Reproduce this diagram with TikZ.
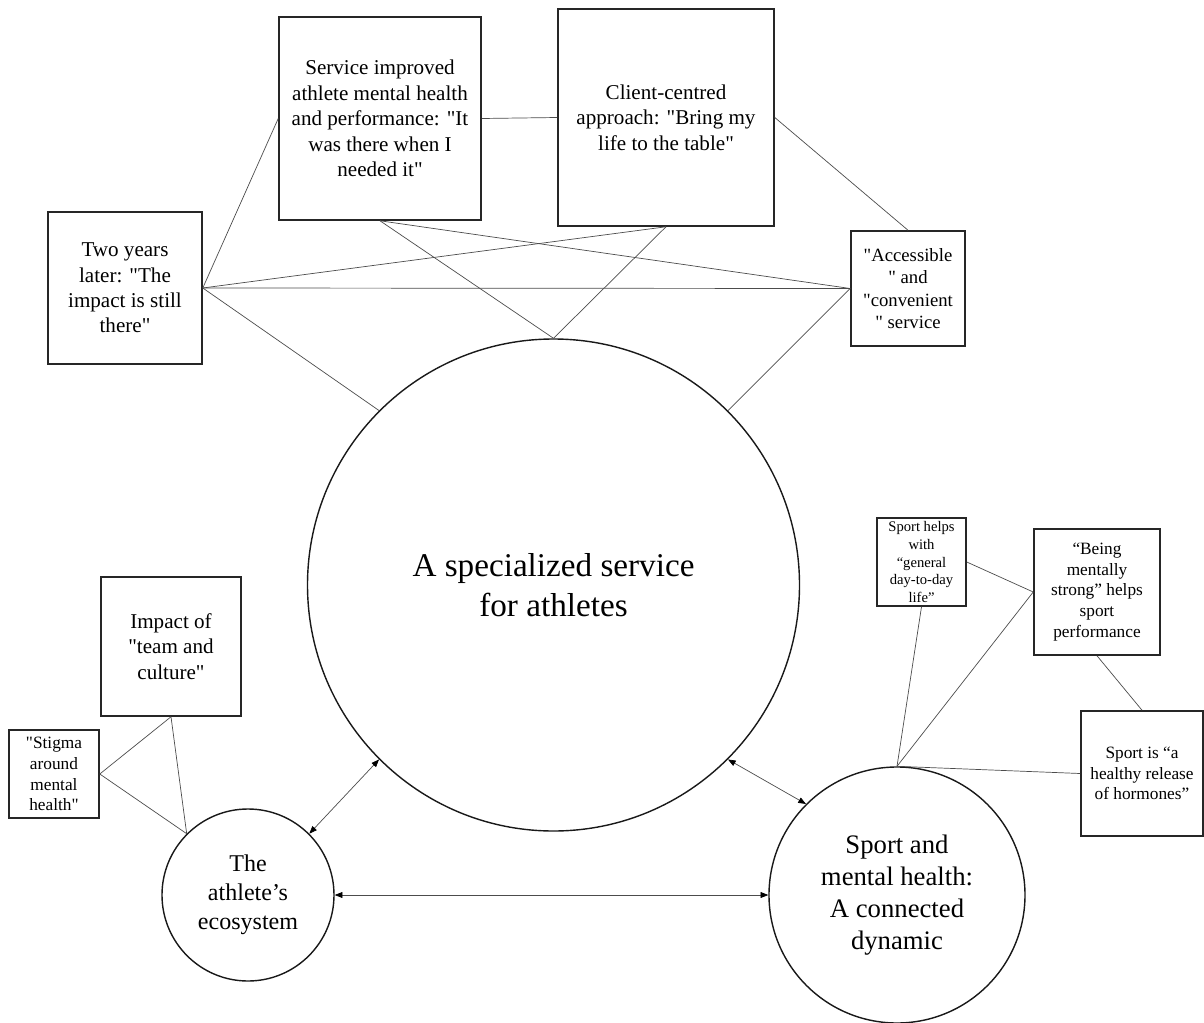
\documentclass[tikz,border=0pt]{standalone}
\usepackage{fontspec}
\setmainfont{Liberation Serif}[Ligatures=TeXOff]
\usetikzlibrary{arrows.meta}
\begin{document}
\begin{tikzpicture}[scale=0.25]
\tikzstyle{every node}+=[inner sep=0pt, align=center]
\tikzstyle{box}=[draw=black!85, line width=1.1pt, rectangle]
\tikzstyle{hub}=[draw=black!90, line width=1pt, circle]
\tikzstyle{link}=[black!70, line width=0.5pt]
\tikzstyle{both}=[link, >={Triangle[length=5.5pt,width=4.2pt,color=black]}, <->]
\useasboundingbox (0,0) rectangle (120.4,-102.3);
\node [hub, minimum size=12.3cm, font=\fontsize{23.6}{28.3}\selectfont] (main) at (55.35,-58.5) {A specialized service\\for athletes};
\node [hub, minimum size=4.3cm, font=\fontsize{17.1}{20.5}\selectfont] (eco) at (24.8,-89.5) {The\\athlete’s\\ecosystem};
\node [hub, minimum size=6.4cm, font=\fontsize{19}{22.8}\selectfont] (sport) at (89.7,-89.5) {Sport and\\mental health:\\A connected\\dynamic};
\node [box, minimum width=5.05cm, minimum height=5.075cm, font=\fontsize{15}{18.1}\selectfont] (serv) at (38,-11.85) {Service improved\\athlete mental health\\and performance: "It\\was there when I\\needed it"};
\node [box, minimum width=5.4cm, minimum height=5.425cm, font=\fontsize{15}{18.1}\selectfont] (client) at (66.6,-11.75) {Client-centred\\approach: "Bring my\\life to the table"};
\node [box, minimum width=3.85cm, minimum height=3.8cm, font=\fontsize{15}{18.1}\selectfont] (two) at (12.5,-28.8) {Two years\\later: "The\\impact is still\\there"};
\node [box, minimum width=2.85cm, minimum height=2.875cm, font=\fontsize{13.3}{16}\selectfont] (acc) at (90.8,-28.85) {"Accessible\\" and\\"convenient\\" service};
\node [box, minimum width=3.5cm, minimum height=3.475cm, font=\fontsize{15}{18.1}\selectfont] (impact) at (17.1,-64.65) {Impact of\\"team and\\culture"};
\node [box, minimum width=2.25cm, minimum height=2.2cm, font=\fontsize{12.3}{14.8}\selectfont] (stigma) at (5.4,-77.4) {"Stigma\\around\\mental\\health"};
\node [box, minimum width=2.225cm, minimum height=2.2cm, font=\fontsize{10.4}{12.5}\selectfont] (helps) at (92.15,-56.2) {Sport helps\\with\\“general\\day-to-day\\life”};
\node [box, minimum width=3.15cm, minimum height=3.15cm, font=\fontsize{12.3}{14.8}\selectfont] (being) at (109.7,-59.2) {“Being\\mentally\\strong” helps\\sport\\performance};
\node [box, minimum width=3.05cm, minimum height=3.125cm, font=\fontsize{12.3}{14.8}\selectfont] (sportis) at (114.2,-77.35) {Sport is “a\\healthy release\\of hormones”};
\draw [link] (serv.west) -- (two.east);
\draw [link] (serv.east) -- (client.west);
\draw [link] (serv.south) -- (main.north);
\draw [link] (serv.south) -- (acc.west);
\draw [link] (client.south) -- (two.east);
\draw [link] (client.south) -- (main.north);
\draw [link] (client.east) -- (acc.north);
\draw [link] (two.east) -- (acc.west);
\draw [link] (two.east) -- (main.135);
\draw [link] (acc.west) -- (main.45);
\draw [link] (impact.south) -- (stigma.east);
\draw [link] (impact.south) -- (eco.135);
\draw [link] (stigma.east) -- (eco.135);
\draw [both] (main.225) -- (eco.45);
\draw [both] (main.-45) -- (sport.135);
\draw [both] (eco.east) -- (sport.west);
\draw [link] (helps.south) -- (sport.north);
\draw [link] (helps.east) -- (being.west);
\draw [link] (being.west) -- (sport.north);
\draw [link] (being.south) -- (sportis.north);
\draw [link] (sport.north) -- (sportis.west);
\end{tikzpicture}
\end{document}
